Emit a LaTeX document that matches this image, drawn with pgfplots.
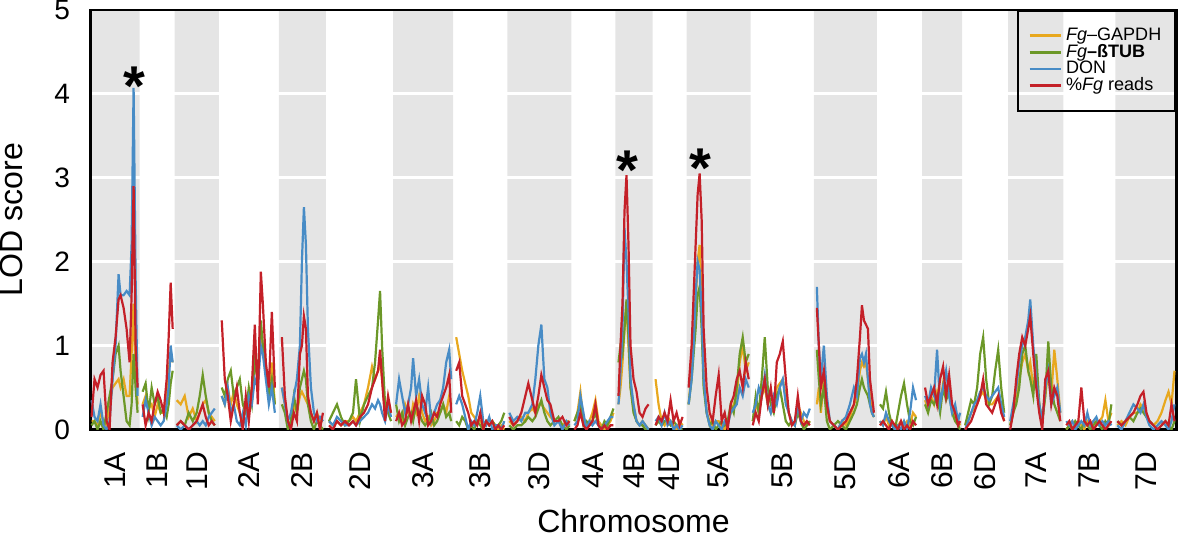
\documentclass[border=0pt]{standalone}
\usepackage{fontspec}
\setmainfont{Liberation Sans}
\usepackage{pgfplots}
\usepackage{pgfplotstable}
\pgfplotsset{compat=1.18}

\definecolor{cgap}{RGB}{232,168,30}
\definecolor{ctub}{RGB}{108,152,40}
\definecolor{cdon}{RGB}{72,140,198}
\definecolor{cred}{RGB}{196,32,40}
\definecolor{band}{RGB}{229,229,229}

% x = position along genome (plot units), g = Fg-GAPDH, t = Fg-bTUB, d = DON, r = %Fg reads
\pgfplotstableread{
x g t d r
93 0.1 0.05 0.35 0.15
96 0.1 0.1 0.15 0.6
99 0.05 0 0.1 0.5
102 0.2 0.1 0.3 0.65
105 0.1 0 0.05 0.7
108 0.05 0.2 0 0.1
111 0.3 0.4 0.1 0
114 0.5 0.6 0.6 0.8
117 0.55 0.9 1.0 1.1
120 0.6 1.0 1.85 1.55
122 0.5 0.7 1.6 1.6
125 0.6 0.4 1.6 1.45
128 0.4 0.1 1.65 1.2
131 0.4 0.05 1.6 0.8
133 0.9 0.3 2.2 1.6
135 1.5 0.9 4.07 2.9
137 0.6 0.5 1.8 1.0
139 0.3 0.2 0.4 0.5
141 nan nan nan nan
144 0.3 0.45 0.15 0.3
147 0.4 0.55 0.35 0.05
150 0.25 0.2 0.2 0.2
153 0.3 0.5 0.05 0.1
156 0.15 0.3 0.15 0.3
159 0.3 0.4 0.1 0.45
162 0.2 0.2 0.05 0.35
165 0.2 0.25 0.1 0.2
168 0.4 0.15 0.3 0.6
170 0.7 0.3 0.5 1.1
172 0.9 0.55 1.0 1.75
174 0.8 0.7 0.8 1.2
176 nan nan nan nan
178 0.35 0.05 0.05 0.05
182 0.3 0.1 0 0.1
186 0.4 0.05 0.05 0.05
190 0.15 0.2 0 0
194 0.25 0.1 0.05 0.05
198 0.1 0.2 0.1 0.1
201 0.2 0.4 0.05 0.2
204 0.3 0.65 0.1 0.3
207 0.35 0.4 0.05 0.15
210 0.2 0.2 0.15 0.05
213 0.15 0.1 0.2 0.1
216 0.1 0.05 0.25 0.05
220 nan nan nan nan
223 0.4 0.5 0.4 1.3
226 0.3 0.4 0.3 0.6
229 0.5 0.6 0.5 0.4
232 0.3 0.7 0.2 0.1
235 0.45 0.4 0.3 0.3
238 0.3 0.5 0.1 0.5
241 0.2 0.6 0.05 0.2
244 0.1 0.3 0.2 0
247 0.3 0.2 0.05 0.4
250 0.2 0.5 0.4 0.1
253 0.5 0.3 0.3 0.5
256 0.9 0.8 0.6 1.25
259 0.6 0.6 0.5 0.3
262 1.2 1.3 1.0 1.88
264 1.0 1.0 0.9 1.5
267 0.7 0.7 0.6 0.8
270 0.5 0.4 0.3 0.5
273 0.8 0.6 0.5 1.4
276 0.3 0.3 0.2 0.5
280 nan nan nan nan
283 0.5 0.3 0.5 1.1
286 0.3 0.2 0.3 0.4
289 0.1 0 0.1 0.1
292 0.05 0.1 0.2 0
295 0.3 0.4 0.4 0.2
298 0.2 0.2 0.6 0.1
301 0.4 0.5 1.0 0.9
303 0.45 0.6 2.0 1.0
305 0.4 0.7 2.65 1.35
307 0.35 0.6 2.2 1.2
309 0.3 0.3 1.2 0.4
312 0.2 0.1 0.5 0.2
315 0.1 0 0.2 0.1
318 0.2 0.1 0.1 0.2
321 0.1 0.05 0.15 0
324 0.1 0 0.1 0.2
327 nan nan nan nan
330 0.1 0.1 0.1 0.05
334 0.05 0.2 0.05 0
338 0.1 0.3 0.15 0.1
342 0.05 0.15 0.1 0.05
346 0.1 0.05 0.05 0.1
350 0.1 0.1 0.05 0.05
354 0.15 0.2 0.1 0.1
357 0.1 0.6 0.05 0.05
361 0.2 0.1 0.1 0.15
365 0.3 0.3 0.15 0.2
369 0.5 0.4 0.2 0.3
373 0.75 0.5 0.3 0.5
376 0.6 0.8 0.25 0.6
379 0.7 1.3 0.35 0.7
381 0.8 1.65 0.3 0.95
383 0.6 1.0 0.2 0.6
386 0.2 0.3 0.1 0.1
389 0.3 0.2 0.3 0.4
392 0.2 0.1 0.15 0.2
394 nan nan nan nan
397 0.15 0.3 0.3 0.1
400 0.2 0.1 0.6 0.2
403 0.1 0.2 0.4 0.05
406 0.3 0.05 0.2 0.1
409 0.2 0.15 0.3 0.3
412 0.15 0.2 0.5 0.1
414 0.3 0.1 0.85 0.2
417 0.2 0.3 0.4 0.35
420 0.4 0.2 0.6 0.1
423 0.2 0.1 0.3 0.4
426 0.1 0.05 0.2 0.3
429 0.15 0.1 0.5 0.05
432 0.05 0.2 0.1 0.1
435 0.1 0.05 0.2 0.2
438 0.2 0.1 0.3 0.15
441 0.2 0.2 0.35 0.3
444 0.3 0.3 0.5 0.4
447 0.2 0.15 0.8 0.5
450 0.4 0.2 0.95 0.65
452 0.3 0.1 0.6 0.2
454 nan nan nan nan
457 1.1 0.1 0.3 0.7
460 0.9 0.05 0.4 0.8
463 0.7 0.15 0.3 0.4
466 0.55 0.1 0.15 0.3
469 0.4 0 0 0.2
472 0.2 0.05 0.1 0.05
475 0.15 0 0.05 0.1
478 0.1 0.1 0.2 0.05
481 0.1 0.05 0.4 0.2
484 0.05 0 0.1 0
487 0.1 0.1 0.05 0.1
490 0.05 0.05 0.15 0.05
493 0.1 0.1 0 0.1
496 0.05 0.05 0.05 0
499 0 0.05 0.05 0.05
502 0.05 0.1 0 0
505 0 0.2 0.1 0.05
508 nan nan nan nan
510 0.1 0.05 0.2 0.15
514 0.05 0 0.1 0.05
518 0.1 0.05 0.15 0.1
522 0.15 0.05 0.1 0.2
526 0.1 0.1 0.2 0.4
529 0.2 0.15 0.2 0.55
533 0.25 0.1 0.3 0.35
536 0.2 0.15 0.6 0.2
539 0.3 0.25 1.0 0.4
542 0.3 0.35 1.25 0.65
545 0.25 0.2 0.6 0.5
548 0.2 0.1 0.5 0.35
551 0.15 0.05 0.2 0.3
555 0.1 0.1 0.05 0.1
559 0.1 0.15 0.1 0.1
563 0.05 0.05 0 0.15
567 0.1 0 0.1 0.05
570 0.1 0.05 0.05 0.1
572 nan nan nan nan
575 0.1 0.1 0.05 0
578 0.2 0.2 0.1 0.05
581 0.45 0.3 0.4 0.2
584 0.1 0.05 0.2 0.05
587 0.05 0.1 0 0
590 0.1 0.05 0.1 0.05
593 0.2 0.1 0.05 0.1
596 0.35 0.2 0.1 0.3
599 0.1 0.05 0.05 0.05
602 0.05 0 0 0
605 0 0.1 0.05 0.05
608 0.05 0.05 0.1 0
611 0.1 0.15 0.15 0.05
614 0.2 0.25 0.15 0.05
616 nan nan nan nan
619 0.3 0.8 0.3 0.4
621 0.5 1.0 0.7 1.0
623 0.8 0.9 1.2 1.5
625 1.2 1.2 2.4 2.6
627 1.5 1.55 2.0 3.03
629 1.0 1.1 1.4 2.2
631 0.5 0.5 0.6 1.0
634 0.3 0.2 0.3 0.6
637 0.1 0.1 0.1 0.45
640 0.05 0.05 0.05 0.2
643 0.1 0.05 0.1 0.15
646 0.05 0 0.05 0.25
649 0 0 0 0.3
653 nan nan nan nan
656 0.6 0.05 0.1 0.05
659 0.3 0.1 0.15 0.15
662 0.1 0.05 0.05 0.1
665 0.05 0.1 0.2 0.2
668 0.15 0.1 0.05 0.1
671 0.1 0.05 0.1 0.35
674 0.05 0.1 0 0.1
677 0 0.05 0.05 0.2
680 0.1 0 0 0.05
683 0.05 0 0.05 0.15
687 nan nan nan nan
689 0.3 0.3 0.3 0.5
692 0.7 0.6 0.6 1.0
694 1.1 0.9 1.0 1.6
696 1.5 1.2 1.6 2.2
698 2.0 1.6 2.0 2.8
700 2.2 1.7 1.9 3.05
702 1.6 1.2 1.4 2.5
704 0.6 0.5 0.6 1.2
707 0.2 0.2 0.2 0.5
710 0.1 0.05 0.05 0.2
713 0.05 0.1 0 0.1
716 0.1 0 0.1 0.4
719 0.1 0.05 0.05 0.65
722 0.05 0.1 0 0.1
725 0 0.05 0.1 0.2
728 0.1 0.1 0.05 0
731 0.2 0.3 0.2 0.3
734 0.3 0.2 0.25 0.4
737 0.4 0.5 0.3 0.6
740 0.8 0.9 0.5 0.7
743 1.0 1.1 0.4 0.5
746 0.7 0.8 0.6 0.8
749 0.8 0.9 0.5 0.6
751 nan nan nan nan
753 0.1 0.1 0.2 0.05
756 0.3 0.4 0.3 0.2
759 0.2 0.2 0.5 0.1
762 0.4 0.6 0.4 0.4
765 0.5 1.1 0.65 0.6
768 0.3 0.5 0.3 0.3
771 0.2 0.3 0.2 0.5
774 0.3 0.2 0.4 0.2
777 0.5 0.4 0.3 0.8
780 0.55 0.5 0.5 0.9
783 0.6 0.3 0.6 1.05
786 0.4 0.1 0.3 0.6
789 0.2 0.05 0.2 0.2
792 0.1 0.1 0.1 0.05
795 0.05 0.05 0.05 0.1
798 0.3 0.2 0.3 0.4
801 0.2 0.1 0.1 0.1
804 0.1 0 0.2 0.05
807 0.05 0.05 0.15 0.1
810 0.1 0.1 0.25 0.05
814 nan nan nan nan
817 0.3 0.95 1.7 1.45
819 0.5 0.6 1.0 1.0
821 0.2 0.3 0.6 0.5
824 0.6 0.5 1.0 0.7
827 0.3 0.1 0.4 0.3
830 0.1 0 0.1 0.1
834 0.05 0.05 0.05 0.05
838 0 0.1 0 0
842 0.1 0.05 0.1 0.05
846 0.05 0 0.15 0.1
850 0.15 0.1 0.3 0.2
854 0.3 0.2 0.5 0.3
857 0.4 0.3 0.4 0.6
860 0.7 0.5 0.85 1.1
862 0.8 0.6 0.9 1.48
864 0.75 0.5 0.8 1.3
866 0.8 0.45 0.9 1.25
868 0.6 0.4 0.6 1.2
870 0.4 0.3 0.3 0.6
872 0.2 0.2 0.2 0.4
874 0.15 0.15 0.15 0.2
877 nan nan nan nan
880 0.1 0.3 0.1 0.05
883 0.05 0.25 0.05 0.1
886 0.15 0.45 0.2 0.05
889 0.05 0.2 0.1 0
892 0.1 0.05 0.05 0.1
895 0 0 0 0.05
898 0.05 0.2 0.05 0
901 0.1 0.4 0 0.1
904 0.05 0.55 0.1 0
907 0.1 0.3 0 0.05
910 0.05 0.1 0.2 0
913 0.2 0.05 0.5 0.1
916 0.15 0.15 0.35 0.05
922 nan nan nan nan
925 0.35 0.3 0.4 0.5
928 0.25 0.2 0.3 0.3
931 0.4 0.35 0.5 0.4
934 0.3 0.3 0.4 0.5
937 0.45 0.4 0.95 0.3
940 0.3 0.2 0.3 0.6
943 0.55 0.5 0.5 0.75
946 0.4 0.35 0.7 0.4
949 0.5 0.45 0.4 0.65
952 0.25 0.2 0.2 0.3
955 0.15 0.1 0.3 0.2
958 0.1 0.05 0.1 0.05
960 0.05 0 0.2 0.1
962 nan nan nan nan
965 0.05 0.05 0 0
968 0.1 0.2 0.1 0.05
971 0.2 0.35 0.2 0.1
974 0.25 0.3 0.3 0.2
977 0.3 0.5 0.35 0.3
980 0.4 0.9 0.45 0.4
983 0.45 1.1 0.5 0.6
986 0.35 0.6 0.4 0.3
989 0.3 0.3 0.35 0.25
992 0.3 0.4 0.4 0.2
995 0.35 0.7 0.45 0.3
998 0.4 0.95 0.5 0.4
1001 0.25 0.5 0.3 0.2
1004 0.1 0.2 0.15 0.1
1008 nan nan nan nan
1010 0.05 0.05 0.1 0
1013 0.2 0.2 0.3 0.2
1016 0.4 0.3 0.5 0.6
1019 0.6 0.5 0.8 0.9
1022 0.8 0.9 1.0 1.1
1025 0.9 1.0 1.1 1.0
1028 0.7 0.7 1.3 1.2
1030 0.8 0.6 1.55 1.35
1033 0.5 0.4 1.0 0.9
1036 0.6 0.9 0.6 0.5
1039 0.3 0.3 0.3 0.2
1042 0.1 0.1 0.1 0
1045 0.4 0.4 0.5 0.6
1048 0.7 1.05 0.7 0.7
1051 0.4 0.5 0.3 0.3
1054 0.95 0.3 0.4 0.5
1057 0.6 0.2 0.5 0.4
1060 0.2 0.1 0.2 0.1
1063 nan nan nan nan
1066 0 0 0.1 0.05
1069 0.05 0.05 0.05 0.1
1072 0.1 0 0.1 0
1075 0.05 0.1 0 0.05
1078 0.1 0.05 0.05 0.1
1081 0.05 0 0.1 0.5
1084 0 0.1 0.05 0.1
1087 0.1 0.05 0.2 0.05
1090 0.05 0 0.05 0.1
1093 0.1 0.05 0.1 0
1096 0.05 0.1 0.15 0.05
1099 0.1 0.05 0.05 0.1
1102 0.15 0 0.1 0.05
1105 0.35 0.1 0.05 0
1108 0.1 0.05 0.1 0.05
1111 0.2 0.3 0.05 0.1
1115 nan nan nan nan
1117 0.05 0.1 0.05 0.1
1121 0.1 0.05 0 0.05
1125 0.05 0.1 0.1 0.1
1129 0.15 0.15 0.2 0.15
1133 0.2 0.1 0.3 0.2
1137 0.2 0.2 0.25 0.3
1140 0.3 0.25 0.2 0.4
1143 0.25 0.2 0.3 0.45
1146 0.15 0.15 0.15 0.2
1149 0.1 0.1 0.05 0.1
1153 0.05 0.05 0 0.05
1157 0.1 0 0.05 0
1161 0.2 0.05 0.1 0.05
1165 0.35 0.1 0.05 0.1
1168 0.45 0.05 0 0.05
1171 0.3 0 0.1 0.3
1174 0.7 0.1 0.3 0.1
}\lod

\begin{document}
\begin{tikzpicture}
\begin{axis}[
  set layers,
  width=542pt, height=209.5pt, scale only axis,
  xmin=92, xmax=1176, ymin=0, ymax=5,
  axis line style={line width=1.2pt},
  unbounded coords=jump,
  major tick length=0pt,
  ytick={0,1,2,3,4,5},
  xtick={116.5,158.5,198,250,303.5,360.5,424,481,540,594,634.5,670,719,782.5,845.5,899.5,942,985,1035.5,1089,1145.5},
  xticklabels={1A,1B,1D,2A,2B,2D,3A,3B,3D,4A,4B,4D,5A,5B,5D,6A,6B,6D,7A,7B,7D},
  /pgf/number format/assume math mode=true,
  ymajorgrids,
  grid style={white, line width=1.5pt},
  yticklabel style={font=\fontsize{14}{14}\selectfont, inner sep=0pt, xshift=-10pt},
  xticklabel style={font=\fontsize{15}{15}\selectfont, yshift=-11pt, rotate=90, anchor=east, inner sep=0pt},
  ylabel={LOD score},
  ylabel style={font=\fontsize{16}{16}\selectfont, inner sep=0pt, at={(axis description cs:-0.0729,0.5)}, anchor=center},
  xlabel={Chromosome},
  xlabel style={font=\fontsize{16}{16}\selectfont, inner sep=3pt, at={(axis description cs:0.5,-0.218)}, anchor=center},
  legend style={at={(1,1)}, anchor=north east, draw=black, line width=1.2pt, fill=none,
    font=\fontsize{9}{9.5}\selectfont, inner xsep=5pt, inner ysep=6.5pt, row sep=-3.6pt,
    cells={anchor=west}},
  legend image code/.code={\draw[#1, line width=1.4pt] (0pt,0pt) -- (15.5pt,0pt);},
]
% alternating chromosome bands
\addplot[fill=band, draw=none, const plot, on layer=axis background, forget plot]
  coordinates {(92,5) (141,0) (176,5) (220,0) (280,5) (327,0) (394,5) (454,0)
  (508,5) (572,0) (616,5) (653,0) (687,5) (751,0) (814,5) (877,0) (922,5)
  (962,0) (1008,5) (1063,0) (1115,5) (1176,5)} \closedcycle;

\addplot[cgap, line width=1.1pt, no markers] table[x=x, y=g] {\lod};
\addlegendentry{\textit{Fg}–GAPDH}
\addplot[ctub, line width=1.1pt, no markers] table[x=x, y=t] {\lod};
\addlegendentry{\textit{Fg}\textbf{–ßTUB}}
\addplot[cdon, line width=1.1pt, no markers] table[x=x, y=d] {\lod};
\addlegendentry{DON}
\addplot[cred, line width=1.1pt, no markers] table[x=x, y=r] {\lod};
\addlegendentry{\%\textit{Fg} reads}

% significance asterisks
\addplot[draw=none, no markers, forget plot,
  nodes near coords={\textbf{*}},
  nodes near coords style={anchor=north, inner sep=0pt, font=\fontsize{28}{28}\selectfont, text=black}]
  coordinates {(135.5,4.33) (627.5,3.32) (700.5,3.35)};
\end{axis}
\end{tikzpicture}
\end{document}
